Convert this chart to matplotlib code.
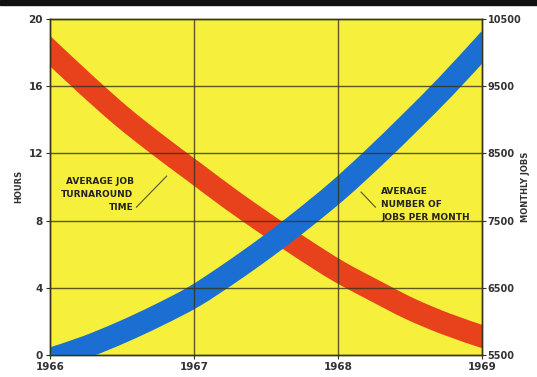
import matplotlib.pyplot as plt
from matplotlib.patches import Rectangle, PathPatch
from matplotlib.path import Path

# readings at quarter-year steps
years = [1966, 1966.25, 1966.5, 1966.75, 1967, 1967.25, 1967.5,
         1967.75, 1968, 1968.25, 1968.5, 1968.75, 1969]
turnaround_hours = [18.1, 16.1, 14.2, 12.5, 10.9, 9.3, 7.8,
                    6.35, 5.0, 3.85, 2.75, 1.85, 1.1]
monthly_jobs = [5440, 5620, 5840, 6090, 6370, 6720, 7100,
                7510, 7950, 8440, 8960, 9500, 10080]

year_ticks = [1966, 1967, 1968, 1969]
hour_ticks = [0, 4, 8, 12, 16, 20]
job_ticks = [5500, 6500, 7500, 8500, 9500, 10500]

yellow = '#f6ef3c'
red = '#e8421c'
blue = '#1b6fd2'
grid_col = '#35331a'
font = ['Liberation Sans Narrow', 'DejaVu Sans']


def smooth_band(a, xs, ys, color):
    # catmull-rom through the readings, drawn as one thick stroke
    pts = list(zip(xs, ys))
    verts = [pts[0]]
    codes = [Path.MOVETO]
    n = len(pts)
    for i in range(n - 1):
        p0 = pts[max(i - 1, 0)]
        p1 = pts[i]
        p2 = pts[i + 1]
        p3 = pts[min(i + 2, n - 1)]
        c1 = (p1[0] + (p2[0] - p0[0]) / 6, p1[1] + (p2[1] - p0[1]) / 6)
        c2 = (p2[0] - (p3[0] - p1[0]) / 6, p2[1] - (p3[1] - p1[1]) / 6)
        verts += [c1, c2, p2]
        codes += [Path.CURVE4] * 3
    patch = PathPatch(Path(verts, codes), fill=False, edgecolor=color,
                      lw=16, capstyle='projecting', joinstyle='round', zorder=2)
    a.add_patch(patch)


fig = plt.figure(figsize=(5.37, 3.77), dpi=100)
fig.patches.append(Rectangle((0, 0.986), 1, 0.014, transform=fig.transFigure,
                             color='#111111', zorder=0))

ax = fig.add_axes([0.0931, 0.0584, 0.8045, 0.891])
ax.set_facecolor(yellow)
smooth_band(ax, years, turnaround_hours, red)
ax.set_xlim(1966, 1969)
ax.set_ylim(0, 20)

ax2 = ax.twinx()
smooth_band(ax2, years, monthly_jobs, blue)
ax2.set_ylim(5500, 10500)

# grid over the bands
for yr in year_ticks[1:-1]:
    ax2.axvline(yr, color=grid_col, lw=1.0, alpha=0.8, zorder=3)
for j in job_ticks[1:-1]:
    ax2.axhline(j, color=grid_col, lw=1.0, alpha=0.8, zorder=3)

for a in (ax, ax2):
    for s in a.spines.values():
        s.set_color(grid_col)
        s.set_linewidth(1.0)

ax.set_xticks(year_ticks)
ax.set_xticklabels([str(y) for y in year_ticks], family=font, weight='bold',
                   fontsize=7.5, color='#333333')
ax.set_yticks(hour_ticks)
ax.set_yticklabels([str(h) for h in hour_ticks], family=font, weight='bold',
                   fontsize=7.5, color='#333333')
ax2.set_yticks(job_ticks)
ax2.set_yticklabels([str(j) for j in job_ticks], family=font, weight='bold',
                    fontsize=7, color='#333333')
ax.tick_params(axis='both', length=3, width=0.8, color=grid_col, pad=2)
ax2.tick_params(axis='y', length=3, width=0.8, color=grid_col, pad=1)

# axis titles
fig.text(0.034, 0.505, 'HOURS', rotation=90, ha='center', va='center',
         family=font, weight='bold', fontsize=6, color='#333333')
fig.text(0.978, 0.505, 'MONTHLY JOBS', rotation=90, ha='center', va='center',
         family=font, weight='bold', fontsize=6, color='#333333')

# callouts
ax.text(1966.58, 10.6, 'AVERAGE JOB\nTURNAROUND\nTIME', ha='right', va='top',
        family=font, weight='bold', fontsize=6.5, color='#222222',
        linespacing=1.6, zorder=4)
ax.plot([1966.60, 1966.81], [8.8, 10.65], color='#555522', lw=0.8, zorder=4)

ax2.text(1968.30, 8000, 'AVERAGE\nNUMBER OF\nJOBS PER MONTH', ha='left', va='top',
         family=font, weight='bold', fontsize=6.5, color='#222222',
         linespacing=1.6, zorder=4)
ax2.plot([1968.16, 1968.26], [7925, 7700], color='#555522', lw=0.8, zorder=4)

fig.savefig('out.png', dpi=100, facecolor='white')
